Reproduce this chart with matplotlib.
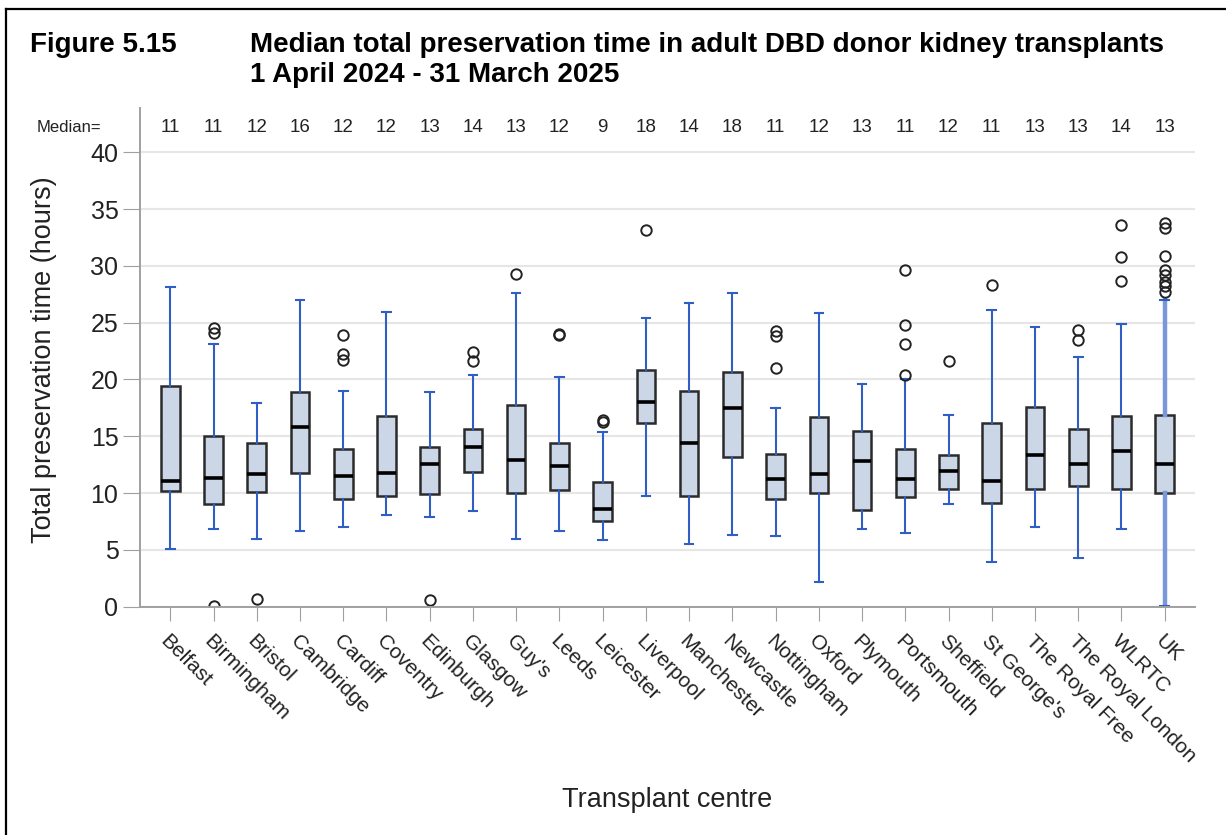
import matplotlib
matplotlib.use("Agg")
import matplotlib.pyplot as plt
from matplotlib.lines import Line2D

plt.rcParams['font.family'] = ['Liberation Sans', 'DejaVu Sans']

centres = ["Belfast", "Birmingham", "Bristol", "Cambridge", "Cardiff", "Coventry",
           "Edinburgh", "Glasgow", "Guy's", "Leeds", "Leicester", "Liverpool",
           "Manchester", "Newcastle", "Nottingham", "Oxford", "Plymouth", "Portsmouth",
           "Sheffield", "St George's", "The Royal Free", "The Royal London", "WLRTC", "UK"]
median_labels = [11, 11, 12, 16, 12, 12, 13, 14, 13, 12, 9, 18, 14, 18, 11, 12, 13, 11,
                 12, 11, 13, 13, 14, 13]

whis_lo = [5.1, 6.8, 6.0, 6.7, 7.0, 8.1, 7.9, 8.4, 6.0, 6.65, 5.85, 9.75,
           5.55, 6.3, 6.2, 2.15, 6.85, 6.45, 9.0, 3.95, 7.05, 4.3, 6.8, 0.1]
q1 = [10.2, 9.05, 10.1, 11.8, 9.45, 9.75, 9.9, 11.9, 10.05, 10.25, 7.55, 16.2,
      9.75, 13.2, 9.45, 10.0, 8.55, 9.7, 10.35, 9.1, 10.35, 10.6, 10.35, 10.0]
med = [11.05, 11.3, 11.7, 15.8, 11.5, 11.8, 12.55, 14.05, 12.9, 12.35, 8.6, 18.0,
       14.4, 17.5, 11.2, 11.7, 12.8, 11.25, 11.95, 11.1, 13.35, 12.55, 13.7, 12.55]
q3 = [19.4, 15.0, 14.4, 18.9, 13.85, 16.8, 14.1, 15.6, 17.75, 14.4, 10.95, 20.8,
      19.0, 20.7, 13.4, 16.7, 15.5, 13.9, 13.35, 16.2, 17.6, 15.65, 16.8, 16.85]
whis_hi = [28.1, 23.1, 17.9, 27.0, 19.0, 25.9, 18.9, 20.4, 27.6, 20.2, 15.35, 25.4,
           26.7, 27.6, 17.5, 25.85, 19.6, 20.0, 16.9, 26.1, 24.6, 22.0, 24.85, 27.0]
outliers = [[], [24.5, 24.1, 0.1], [0.65], [], [23.9, 22.2, 21.7], [],
            [0.6], [22.4, 21.65], [29.3], [24.0, 23.9], [16.45, 16.3], [33.2],
            [], [], [24.3, 23.8, 21.0], [], [], [29.6, 24.8, 23.1, 20.4],
            [21.65], [28.3], [], [24.35, 23.5], [33.6, 30.8, 28.7],
            [33.75, 33.3, 30.9, 29.6, 29.2, 28.6, 28.2, 27.7]]

stats = []
for i in range(len(centres)):
    stats.append(dict(med=med[i], q1=q1[i], q3=q3[i], whislo=whis_lo[i],
                      whishi=whis_hi[i], fliers=outliers[i], label=centres[i]))

fig = plt.figure(figsize=(12.26, 8.35), dpi=100)
ax = fig.add_axes([0.1142, 0.2734, 0.8605, 0.5973])

blue = '#2f5fc4'
bp = ax.bxp(stats, positions=range(len(centres)), widths=0.43, capwidths=0.2,
            patch_artist=True,
            boxprops=dict(facecolor='#cbd6e6', edgecolor='#2b2b2b', linewidth=1.8),
            medianprops=dict(color='black', linewidth=2.6),
            whiskerprops=dict(color=blue, linewidth=1.5),
            capprops=dict(color=blue, linewidth=1.5),
            flierprops=dict(marker='o', markerfacecolor='none', markeredgecolor='#222222',
                            markersize=7.5, markeredgewidth=1.4))
# UK whisker drawn heavier and lighter
for w in bp['whiskers'][-2:]:
    w.set_linewidth(3.2)
    w.set_color('#7a97d8')

ax.set_xlim(-0.7, len(centres) - 0.3)
ax.set_ylim(0, 43.9)
ax.set_yticks(range(0, 41, 5))
ax.set_xticks(range(len(centres)))
ax.set_xticklabels(centres, rotation=-45, ha='left', va='top', rotation_mode='anchor',
                   fontsize=15)
ax.tick_params(axis='y', labelsize=18, length=12, color='#a0a0a0', labelcolor='#222222')
ax.tick_params(axis='x', length=10, color='#a0a0a0', labelcolor='#222222', pad=8)
ax.yaxis.grid(True, color='#e6e6e6', linewidth=1.5)
ax.set_axisbelow(True)
for s in ['top', 'right']:
    ax.spines[s].set_visible(False)
for s in ['left', 'bottom']:
    ax.spines[s].set_color('#a0a0a0')
    ax.spines[s].set_linewidth(1.4)

# median row
for i, m in enumerate(median_labels):
    ax.text(i, 42.2, str(m), ha='center', va='center', fontsize=13.5, color='#222222')
ax.text(-1.6, 42.2, 'Median=', ha='right', va='center', fontsize=12, color='#222222')

fig.text(667.5 / 1226, 1 - 800 / 835, 'Transplant centre', ha='center', va='center',
         fontsize=19.5, color='#222222')
fig.text(44 / 1226, 1 - 360 / 835, 'Total preservation time (hours)', rotation=90,
         ha='center', va='center', fontsize=19.5, color='#222222')

fig.text(30 / 1226, 1 - 45 / 835, 'Figure 5.15', ha='left', va='center',
         fontsize=20, fontweight='bold')
fig.text(250 / 1226, 1 - 45 / 835,
         'Median total preservation time in adult DBD donor kidney transplants',
         ha='left', va='center', fontsize=20, fontweight='bold')
fig.text(250 / 1226, 1 - 75 / 835, '1 April 2024 - 31 March 2025', ha='left',
         va='center', fontsize=20, fontweight='bold')

# frame
y_top = 1 - 9 / 835
x_left = 6 / 1226
fig.add_artist(Line2D([x_left, 1.0], [y_top, y_top], color='black', linewidth=1.6))
fig.add_artist(Line2D([x_left, x_left], [y_top, 0.0], color='black', linewidth=1.6))

fig.savefig('out.png', dpi=100)
